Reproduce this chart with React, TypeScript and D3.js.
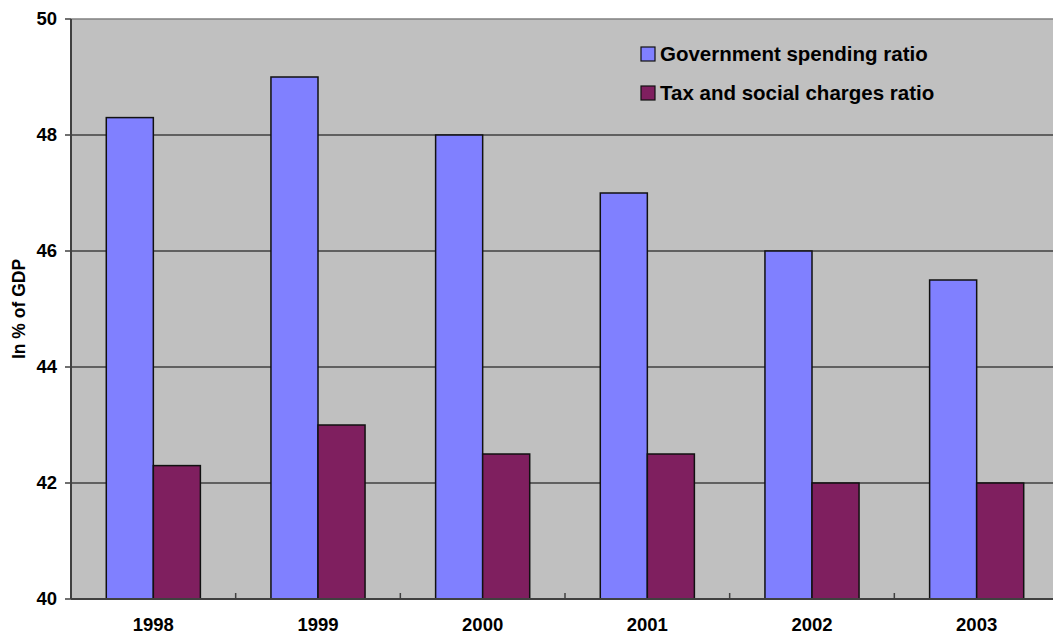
import React from "react";
import * as d3 from "d3";

const years = ["1998", "1999", "2000", "2001", "2002", "2003"];
const spendingRatio = [48.3, 49, 48, 47, 46, 45.5];
const taxRatio = [42.3, 43, 42.5, 42.5, 42, 42];
const seriesNames = ["Government spending ratio", "Tax and social charges ratio"];
const seriesColors = ["#8080FF", "#7F1F5F"];
const yTicks = [40, 42, 44, 46, 48, 50];

const W = 1053;
const H = 634;
const plot = { left: 71, top: 19, right: 1059, bottom: 599 };
const font = "Arial, 'Liberation Sans', sans-serif";

export default function App() {
  const x0 = d3.scaleBand<string>().domain(years).range([plot.left, plot.right]).padding(0);
  const x1 = d3
    .scaleBand<string>()
    .domain(seriesNames)
    .range([0, x0.bandwidth()])
    .paddingInner(0)
    .paddingOuter(0.75);
  const y = d3.scaleLinear().domain([40, 50]).range([plot.bottom, plot.top]);
  const values = [spendingRatio, taxRatio];

  return (
    <svg
      width={W}
      height={H}
      style={{ position: "absolute", left: 0, top: 0, background: "#fff" }}
      fontFamily={font}
    >
      <rect
        x={plot.left}
        y={plot.top}
        width={plot.right - plot.left}
        height={plot.bottom - plot.top}
        fill="#C0C0C0"
      />
      {/* gridlines */}
      {yTicks.map((t) =>
        t === 40 ? null : (
          <line
            key={t}
            x1={plot.left}
            x2={plot.right}
            y1={y(t)}
            y2={y(t)}
            stroke={t === 50 ? "#808080" : "#000"}
            strokeWidth={t === 50 ? 1.5 : 1}
          />
        )
      )}
      {/* bars */}
      {years.map((yr, i) => (
        <g key={yr} transform={`translate(${x0(yr)},0)`}>
          {seriesNames.map((s, j) => (
            <rect
              key={s}
              x={x1(s)}
              y={y(values[j][i])}
              width={x1.bandwidth()}
              height={y(40) - y(values[j][i])}
              fill={seriesColors[j]}
              stroke="#111"
              strokeWidth={1.5}
            />
          ))}
        </g>
      ))}
      {/* y axis */}
      <line
        x1={plot.left}
        x2={plot.left}
        y1={plot.top}
        y2={plot.bottom}
        stroke="#404040"
        strokeWidth={2}
      />
      {yTicks.map((t) => (
        <g key={t}>
          <line x1={plot.left - 6} x2={plot.left} y1={y(t)} y2={y(t)} stroke="#404040" strokeWidth={1.5} />
          <text
            x={57}
            y={y(t)}
            dy="0.35em"
            textAnchor="end"
            fontSize={18.5}
            fontWeight="bold"
            fill="#000"
          >
            {t}
          </text>
        </g>
      ))}
      {/* x axis */}
      <line
        x1={plot.left}
        x2={plot.right}
        y1={plot.bottom}
        y2={plot.bottom}
        stroke="#404040"
        strokeWidth={2}
      />
      {years.map((yr, i) => (
        <g key={yr}>
          {i > 0 && (
            <line
              x1={x0(yr)}
              x2={x0(yr)}
              y1={plot.bottom}
              y2={plot.bottom - 6}
              stroke="#404040"
              strokeWidth={1.5}
            />
          )}
          <text
            x={(x0(yr) as number) + x0.bandwidth() / 2}
            y={631}
            textAnchor="middle"
            fontSize={18.5}
            fontWeight="bold"
            fill="#000"
          >
            {yr}
          </text>
        </g>
      ))}
      <text
        transform={`translate(25,309) rotate(-90)`}
        textAnchor="middle"
        fontSize={17.5}
        fontWeight="bold"
        fill="#000"
      >
        In % of GDP
      </text>
      {/* legend */}
      {seriesNames.map((s, j) => (
        <g key={s} transform={`translate(641,${54 + j * 39})`}>
          <rect x={0} y={-7} width={14} height={14} fill={seriesColors[j]} stroke="#111" strokeWidth={1.2} />
          <text x={19} y={0} dy="0.36em" fontSize={20.5} fontWeight="bold" fill="#000">
            {s}
          </text>
        </g>
      ))}
    </svg>
  );
}
